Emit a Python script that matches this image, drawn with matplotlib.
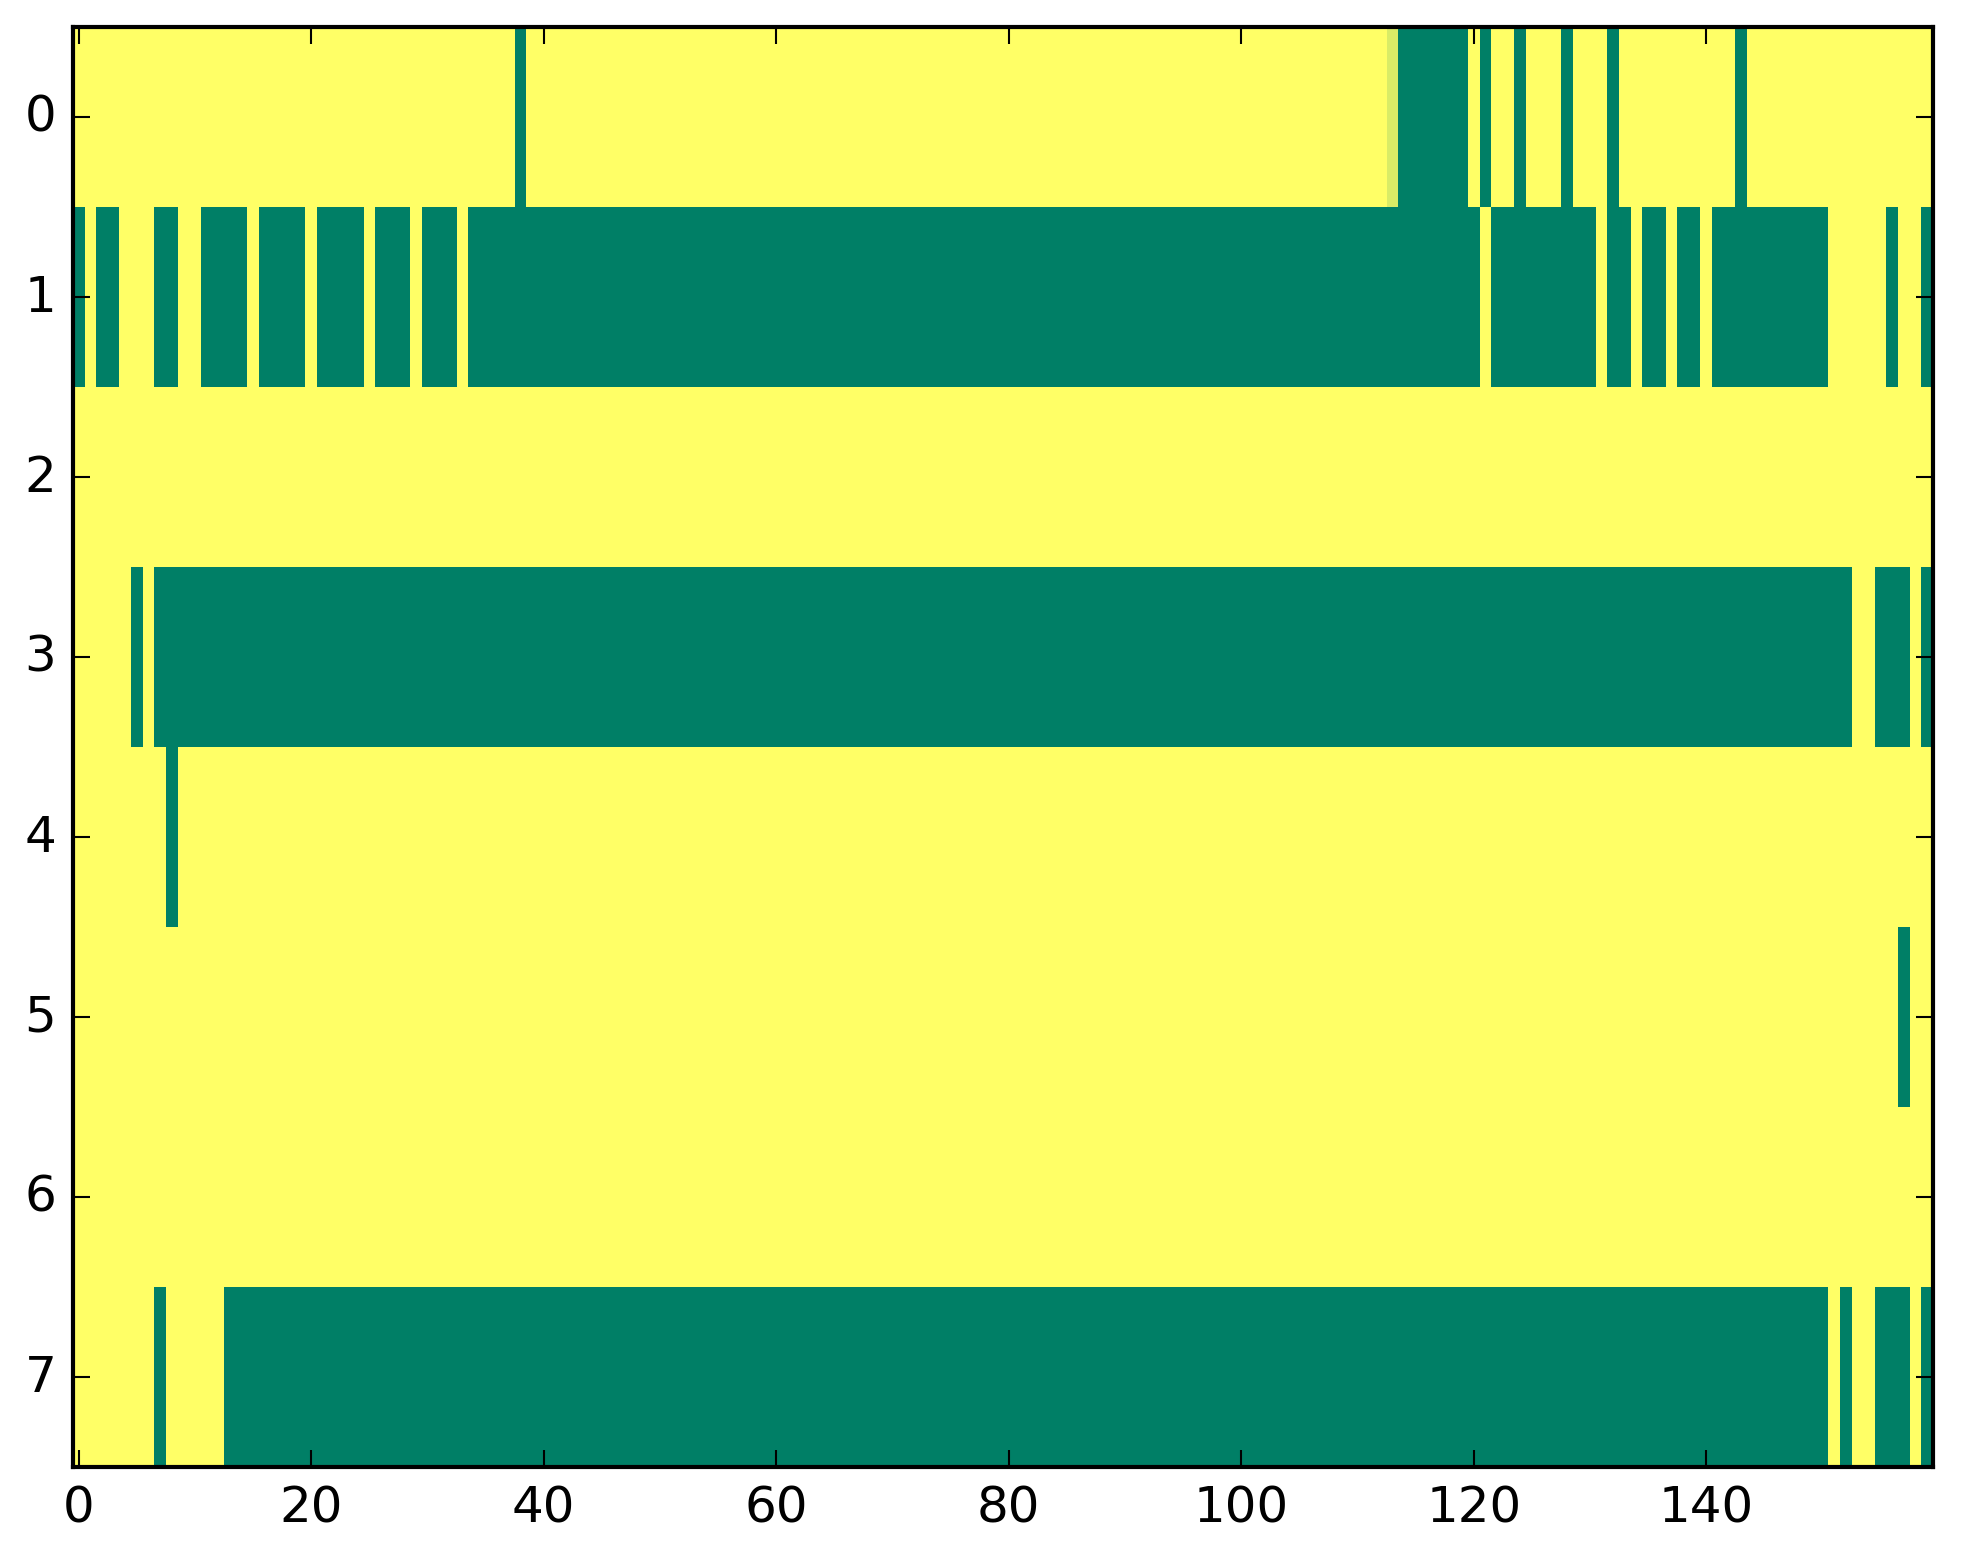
import numpy as np
import matplotlib
matplotlib.use('Agg')
import matplotlib.pyplot as plt

plt.style.use('classic')

n_rows, n_cols = 8, 160

# zero (green) runs per row, inclusive (start, end) column indices
row0_zeros = [(38, 38), (114, 119), (121, 121), (124, 124), (128, 128), (132, 132), (143, 143)]
row1_zeros = [(0, 0), (2, 3), (7, 8), (11, 14), (16, 19), (21, 24), (26, 28), (30, 32),
              (34, 120), (122, 130), (132, 133), (135, 136), (138, 139), (141, 150),
              (156, 156), (159, 159)]
row2_zeros = []
row3_zeros = [(5, 5), (7, 152), (155, 157), (159, 159)]
row4_zeros = [(8, 8)]
row5_zeros = [(157, 157)]
row6_zeros = []
row7_zeros = [(7, 7), (13, 150), (152, 152), (155, 157), (159, 159)]

# the one cell with an in-between value
partial_cells = [(0, 113, 0.85)]

all_rows = [row0_zeros, row1_zeros, row2_zeros, row3_zeros,
            row4_zeros, row5_zeros, row6_zeros, row7_zeros]

data = np.ones((n_rows, n_cols))
for r, runs in enumerate(all_rows):
    for a, b in runs:
        data[r, a:b + 1] = 0.0
for r, c, v in partial_cells:
    data[r, c] = v

fig = plt.figure(figsize=(1963 / 300, 1564 / 300), dpi=300, facecolor='white')
ax = fig.add_axes([73 / 1963, 96 / 1564, 1860 / 1963, 1440 / 1564])
ax.imshow(data, cmap='summer', vmin=0, vmax=1, aspect='auto', interpolation='nearest')
ax.set_xticks(range(0, 160, 20))
ax.set_yticks(range(0, 8))

fig.savefig('out.png', dpi=300, facecolor='white')
